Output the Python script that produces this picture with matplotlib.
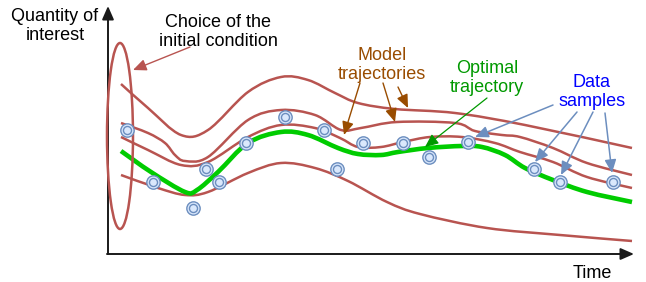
"""Schematic: model trajectories, optimal trajectory and data samples vs time."""

import matplotlib

matplotlib.use("Agg")
import matplotlib.pyplot as plt
import numpy as np
from matplotlib.patches import Ellipse, FancyArrowPatch, PathPatch
from matplotlib.path import Path

# ---- traced geometry (pixel coords of the 646x282 canvas, y grows downward) ----
MODEL_A_X = [121, 148, 181, 208, 248, 281, 308, 335, 358, 395, 455, 525, 632]
MODEL_A_Y = [84, 108, 135, 130, 92, 77, 80, 93, 103, 109, 113, 125, 148]

MODEL_B_X = [121, 148, 165, 175, 185, 208, 248, 281, 315, 341, 361, 397, 455, 475, 502, 520, 553, 587, 632]
MODEL_B_Y = [123, 133, 143, 155, 161, 157, 120, 110, 115, 130, 128, 122, 123, 131, 135, 137, 148, 163, 175]

MODEL_C_X = [121, 148, 181, 208, 248, 281, 315, 340, 358, 381, 403, 430, 462, 495, 520, 553, 587, 632]
MODEL_C_Y = [137, 150, 165, 162, 137, 125, 128, 138, 147, 147, 142, 137, 137, 143, 152, 162, 177, 188]

MODEL_D_X = [121, 158, 185, 208, 248, 281, 315, 348, 387, 420, 487, 560, 632]
MODEL_D_Y = [175, 188, 195, 192, 173, 163, 168, 181, 202, 214, 228, 235, 241]

OPTIMAL_X = [121, 151, 185, 197, 218, 248, 281, 308, 338, 358, 381, 398, 428, 462, 482, 505, 525, 553, 587, 632]
OPTIMAL_Y = [151, 172, 192, 190, 172, 143, 132, 135, 148, 154, 155, 152, 148, 146, 147, 155, 168, 180, 192, 202]

SAMPLES_X = [127, 153, 193, 206, 219, 246, 285, 324, 337, 363, 403, 429, 468, 534, 560, 613]
SAMPLES_Y = [130, 182, 208, 169, 182, 143, 117, 130, 169, 143, 143, 157, 142, 169, 182, 182]

# annotation arrows: (tail, head)
MODEL_ARROWS = [((360, 83), (344, 135)), ((383, 83), (395, 122)), ((398, 87), (408, 108))]
OPTIMAL_ARROW = ((487, 98), (425, 147))
SAMPLE_ARROWS = [((553, 105), (475, 137)), ((577, 112), (535, 162)),
                 ((593, 112), (561, 175)), ((605, 113), (612, 173))]
INIT_ARROW = ((190, 47), (133, 70))

RED = "#b85450"
GREEN_LINE = "#00cc00"
BLUE_EDGE = "#6c8ebf"
BLUE_FILL = "#dae8fc"
BROWN = "#994c00"


def smooth_path(xs, ys):
    # Catmull-Rom through the traced points, drawn as cubic Bezier segments
    pts = np.column_stack([xs, ys]).astype(float)
    verts, codes = [pts[0]], [Path.MOVETO]
    n = len(pts)
    for i in range(n - 1):
        p0, p1, p2, p3 = pts[max(i - 1, 0)], pts[i], pts[i + 1], pts[min(i + 2, n - 1)]
        verts += [p1 + (p2 - p0) / 6, p2 - (p3 - p1) / 6, p2]
        codes += [Path.CURVE4] * 3
    return Path(verts, codes)


def arrow(ax, tail, head, color, lw=1.0, hl=7, hw=3):
    ax.add_patch(FancyArrowPatch(tail, head, arrowstyle=f"-|>,head_length={hl},head_width={hw}",
                                 mutation_scale=1, color=color, lw=lw, shrinkA=0, shrinkB=0))


def main():
    plt.rcParams["font.family"] = ["Liberation Sans", "DejaVu Sans"]
    fig = plt.figure(figsize=(6.46, 2.82), dpi=100)
    ax = fig.add_axes([0, 0, 1, 1])
    ax.set_xlim(0, 646); ax.set_ylim(282, 0)
    ax.axis("off")

    # axes with arrow heads
    arrow(ax, (108, 254), (108, 6), "#1a1a1a", lw=1.4, hl=8, hw=3.5)
    arrow(ax, (107, 254), (634, 254), "#1a1a1a", lw=1.4, hl=8, hw=3.5)

    # model trajectories + optimal one
    for xs, ys in [(MODEL_A_X, MODEL_A_Y), (MODEL_B_X, MODEL_B_Y),
                   (MODEL_C_X, MODEL_C_Y), (MODEL_D_X, MODEL_D_Y)]:
        ax.add_patch(PathPatch(smooth_path(xs, ys), fill=False, ec=RED, lw=1.8, capstyle="butt"))
    ax.add_patch(PathPatch(smooth_path(OPTIMAL_X, OPTIMAL_Y), fill=False, ec=GREEN_LINE, lw=3.3,
                           capstyle="butt", joinstyle="round"))

    # initial-condition ellipse
    ax.add_patch(Ellipse((120, 136), 26, 186, fill=False, ec=RED, lw=1.8))

    # data samples (double circles)
    ax.plot(SAMPLES_X, SAMPLES_Y, "o", ms=9.6, mfc=BLUE_FILL, mec=BLUE_EDGE, mew=1.0, zorder=5)
    ax.plot(SAMPLES_X, SAMPLES_Y, "o", ms=5.8, mfc="none", mec=BLUE_EDGE, mew=1.0, zorder=6)

    # annotation arrows
    arrow(ax, *INIT_ARROW, RED, lw=1.0, hl=8, hw=3.5)
    for tail, head in MODEL_ARROWS:
        arrow(ax, tail, head, BROWN, lw=1.0, hl=8, hw=3.5)
    arrow(ax, *OPTIMAL_ARROW, "#009900", lw=0.9, hl=8, hw=3.5)
    for tail, head in SAMPLE_ARROWS:
        arrow(ax, tail, head, BLUE_EDGE, lw=1.1, hl=8, hw=3.5)

    txt = dict(fontsize=13, ha="center", va="center", linespacing=1.22)
    ax.text(55, 26, "Quantity of\ninterest", color="#000000", **txt)
    ax.text(218, 32, "Choice of the\ninitial condition", color="#000000", **txt)
    ax.text(382, 65, "Model\ntrajectories", color=BROWN, **txt)
    ax.text(487, 78, "Optimal\ntrajectory", color="#009900", **txt)
    ax.text(592, 92, "Data\nsamples", color="#0000ff", **txt)
    ax.text(592, 273, "Time", color="#000000", **txt)

    fig.savefig("out.png", dpi=100)
    plt.close(fig)


if __name__ == "__main__":
    main()
